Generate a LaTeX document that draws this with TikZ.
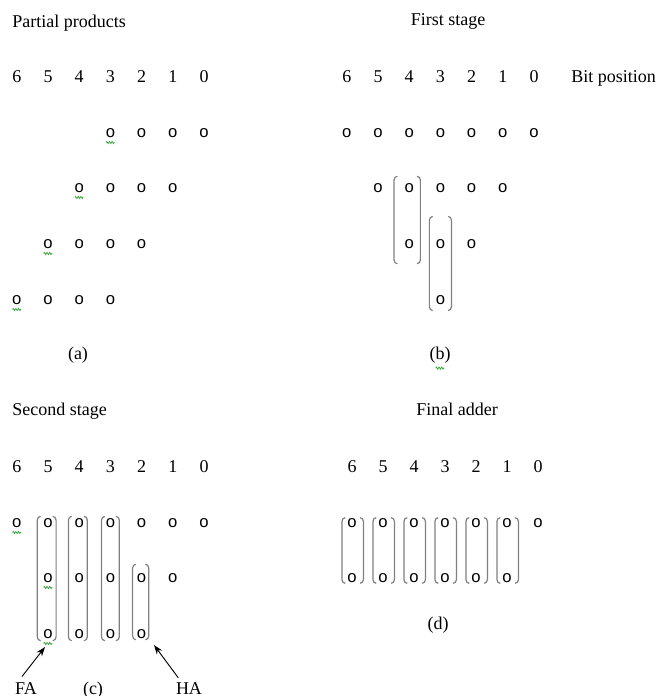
\documentclass[tikz,border=0pt]{standalone}
\usepackage{fontspec}
\setmainfont{Liberation Serif}
\newfontfamily\bitfont{Liberation Sans}
\usetikzlibrary{arrows.meta, positioning, fit, calc, decorations.pathmorphing}
\definecolor{BracketGray}{HTML}{808080}
\definecolor{SquigGreen}{HTML}{3FA845}

% bracket pair drawn round a fit node
\newcommand{\encl}[1]{%
  \draw[brk] ([xshift=2.5pt]#1.north west) to[out=180,in=90] ([yshift=-3pt]#1.north west)
    -- ([yshift=3pt]#1.south west) to[out=-90,in=180] ([xshift=2.5pt]#1.south west);
  \draw[brk] ([xshift=-2.5pt]#1.north east) to[out=0,in=90] ([yshift=-3pt]#1.north east)
    -- ([yshift=3pt]#1.south east) to[out=-90,in=0] ([xshift=-2.5pt]#1.south east);}
% spell-check squiggle under a node
\newcommand{\squig}[1]{\draw[wavy] ([xshift=-3.2pt,yshift=-3.5pt]#1.south) -- ([xshift=3.2pt,yshift=-3.5pt]#1.south);}

\begin{document}
\begin{tikzpicture}[x=0.75pt, y=-0.75pt,
    lbl/.style={font=\fontsize{13.5}{16}\selectfont, inner sep=0pt},
    bit/.style={font=\bitfont\fontsize{12.5}{14}\selectfont, inner sep=0pt},
    brk/.style={draw=BracketGray, line width=0.9pt},
    wavy/.style={draw=SquigGreen, line width=0.6pt, decorate, decoration={zigzag, segment length=2pt, amplitude=0.8pt}},
    arr/.style={-{Stealth[length=7pt,width=5pt]}, line width=0.7pt}
  ]
  \useasboundingbox (0,0) rectangle (668,696);

  % (a) partial products
  \node[lbl, anchor=base west] (titleA) at (12,27) {Partial products};
  \foreach \c in {0,...,6} \node[lbl, anchor=base] (ad\c) at ({204-31.2*\c},82) {\c};
  \foreach \r/\y/\lo in {1/133/0, 2/188/1, 3/244/2, 4/300/3}{
    \foreach \k in {0,...,3}{
      \pgfmathtruncatemacro{\c}{\lo+\k}
      \node[bit] (a\r\c) at ({204-31.2*\c},\y) {o};
    }
    \pgfmathtruncatemacro{\hi}{\lo+3}
    \squig{a\r\hi}
  }
  \node[lbl] (capA) at (78,355) {(a)};

  % (b) first stage
  \node[lbl, anchor=base] (titleB) at (448,26) {First stage};
  \foreach \c in {0,...,6} \node[lbl, anchor=base] (bd\c) at ({534-31.2*\c},82) {\c};
  \node[lbl, anchor=base west] (bitpos) at (571,82) {Bit position};
  \foreach \r/\y/\cols in {1/133/{0,1,2,3,4,5,6}, 2/188/{1,2,3,4,5}, 3/244/{2,3,4}, 4/300/{3}}{
    \foreach \c in \cols \node[bit] (b\r\c) at ({534-31.2*\c},\y) {o};
  }
  \node[fit=(b24)(b34), inner xsep=6pt, inner ysep=8pt, xshift=-1.5pt, yshift=-3pt] (gb1) {};
  \node[fit=(b33)(b43), inner xsep=4.4pt, inner ysep=10.5pt, yshift=6.4pt] (gb2) {};
  \encl{gb1} \encl{gb2}
  \node[lbl] (capB) at (440,355) {(b)};
  \squig{capB}

  % (c) second stage
  \node[lbl, anchor=base west] (titleC) at (12,415) {Second stage};
  \foreach \c in {0,...,6} \node[lbl, anchor=base] (cd\c) at ({204-31.2*\c},472) {\c};
  \foreach \r/\y/\cols in {1/523/{0,1,2,3,4,5,6}, 2/578/{1,2,3,4,5}, 3/634/{2,3,4,5}}{
    \foreach \c in \cols \node[bit] (c\r\c) at ({204-31.2*\c},\y) {o};
  }
  \node[fit=(c15)(c35), inner xsep=3.2pt, inner ysep=1.2pt, xshift=-1pt] (gc5) {};
  \node[fit=(c14)(c34), inner xsep=3.2pt, inner ysep=1.2pt, xshift=-1pt] (gc4) {};
  \node[fit=(c13)(c33), inner xsep=2.8pt, inner ysep=1.2pt] (gc3) {};
  \node[fit=(c22)(c32), inner xsep=2.2pt, inner ysep=3.5pt, xshift=-0.7pt, yshift=3pt] (gc2) {};
  \encl{gc5} \encl{gc4} \encl{gc3} \encl{gc2}
  \squig{c16} \squig{c25} \squig{c35}
  \node[lbl, anchor=base] (fa) at (26,694) {FA};
  \node[lbl, anchor=base] (capC) at (93,694) {(c)};
  \node[lbl, anchor=base] (ha) at (189,694) {HA};
  \coordinate (faTip) at (45,647);
  \coordinate (haTip) at (154,645);
  \draw[arr] ([xshift=-3pt, yshift=4pt]fa.north) -- (faTip);
  \draw[arr] ([xshift=-8pt, yshift=3pt]ha.north) -- (haTip);

  % (d) final adder
  \node[lbl, anchor=base] (titleD) at (457,415) {Final adder};
  \foreach \c in {0,...,6} \node[lbl, anchor=base] (dd\c) at ({538-31*\c},472) {\c};
  \foreach \c in {0,...,6} \node[bit] (d1\c) at ({538-31*\c},523) {o};
  \foreach \c in {1,...,6}{
    \node[bit] (d2\c) at ({538-31*\c},578) {o};
    \node[fit=(d1\c)(d2\c), inner xsep=4.2pt, inner ysep=0.2pt, xshift=0.5pt] (gd\c) {};
    \encl{gd\c}
  }
  \node[lbl] (capD) at (438,625) {(d)};
\end{tikzpicture}
\end{document}
